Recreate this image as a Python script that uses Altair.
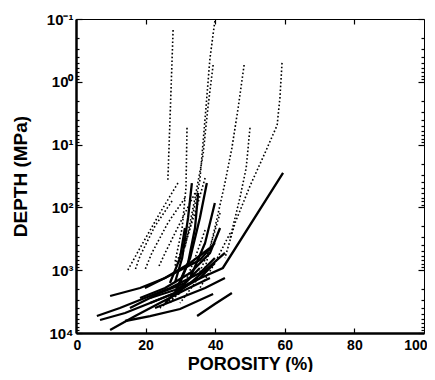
import altair as alt
import pandas as pd

# ---- data (porosity %, depth MPa) ----
dotted_porosity = [
    [27.9, 27.2, 26.4],
    [39.9, 38.5, 37.1, 35.6, 32.8, 29.9],
    [48.3, 46.6, 44.8, 42.8, 39.9, 37.1],
    [59.2, 58.6, 57.8, 54.3, 50.0, 45.7, 42.8],
    [50.0, 48.9, 47.1, 44.3],
    [31.9, 31.6, 30.5, 28.4],
    [39.4, 37.9, 36.5, 34.2, 31.3],
    [29.3, 24.1, 18.4, 14.9],
    [27.6, 22.7, 18.4, 17.0],
    [31.3, 26.4, 21.8, 19.8],
    [34.2, 29.9, 25.6, 23.6],
    [37.1, 34.2, 31.3, 28.4],
    [37.1, 34.2, 31.3, 27.0],
    [41.4, 38.5, 34.2, 29.9],
    [37.1, 34.2, 29.9, 24.1],
    [44.3, 39.9, 35.6],
]
dotted_depth = [
    [0.15, 2.0, 36.6],
    [0.108, 0.42, 3.8, 36.6, 213, 768],
    [0.54, 2.6, 11.3, 40.9, 213, 922],
    [0.50, 1.8, 4.9, 13.6, 45.6, 177, 640],
    [5.4, 23.6, 70.8, 307],
    [5.4, 49, 213, 768],
    [0.54, 2.6, 14.7, 70.8, 443],
    [40.9, 123, 443, 993],
    [79, 198, 594, 993],
    [70.8, 177, 532, 993],
    [59, 177, 532, 922],
    [34, 123, 369, 858],
    [229, 640, 1600, 3327],
    [123, 443, 1600, 3327],
    [369, 922, 2306, 3998],
    [256, 768, 1920],
]
solid_porosity = [
    [59.5, 42.2, 37.1, 28.4, 21.3],
    [14.1, 21.3, 29.9, 39.4],
    [34.8, 39.9, 44.8],
    [9.8, 18.4, 25.6, 32.8, 38.5],
    [6.0, 12.6, 19.8, 27.0, 35.6, 39.9],
    [6.9, 14.1, 21.3, 28.4],
    [9.8, 17.0, 24.1, 31.3, 38.5],
    [33.3, 32.2, 30.5, 28.4],
    [37.6, 35.6, 32.8, 28.4],
    [39.9, 37.1, 32.8, 25.6],
    [21.3, 28.4, 35.6, 39.9],
    [22.7, 29.9, 37.1, 42.8],
    [18.4, 25.6, 32.8, 38.5, 41.4],
    [15.5, 24.1, 31.3, 35.6],
    [19.8, 28.4, 35.6, 39.9],
    [27.0, 32.8, 38.5, 42.8],
    [35.1, 34.2, 32.2, 29.3],
    [31.3, 29.9, 27.0],
]
solid_depth = [
    [28.3, 922, 1237, 2067, 2772],
    [6440, 5363, 4148, 2393],
    [5363, 3451, 2306],
    [2576, 1920, 1331, 768, 443],
    [5363, 3998, 2772, 1920, 1110, 640],
    [6207, 4806, 3327, 2306],
    [8960, 5363, 3327, 2067, 1331],
    [40.9, 147, 640, 1600],
    [40.9, 147, 640, 2306],
    [85, 369, 1331, 3327],
    [3327, 2306, 1331, 768],
    [3998, 2772, 1920, 1331],
    [2772, 1920, 1110, 532, 213],
    [3998, 2306, 1600, 922],
    [1920, 1110, 689, 369],
    [2772, 1600, 858, 532],
    [59, 213, 768, 1920],
    [213, 640, 1600],
]
x_ticks = [0, 20, 40, 60, 80, 100]
y_major = [0.1, 1, 10, 100, 1000, 10000]
y_minor = [m * 10 ** k for k in range(-1, 4) for m in range(2, 10)]

rows = []
for kind, xs_all, ys_all in (("dotted", dotted_porosity, dotted_depth),
                             ("solid", solid_porosity, solid_depth)):
    for s, (xs, ys) in enumerate(zip(xs_all, ys_all)):
        for i, (xv, yv) in enumerate(zip(xs, ys)):
            rows.append({"kind": kind, "series": f"{kind}{s}", "idx": i,
                         "porosity": xv, "depth": yv})
df = pd.DataFrame(rows)

FONT = "Liberation Sans"
xscale = alt.Scale(domain=[0, 100], nice=False, zero=False)
yscale = alt.Scale(type="log", domain=[0.1, 10000], nice=False, reverse=True)

sup = ("datum.value < 0.5 ? '10⁻¹' : datum.value < 5 ? '10⁰' : "
       "datum.value < 50 ? '10¹' : datum.value < 500 ? '10²' : "
       "datum.value < 5000 ? '10³' : '10⁴'")

x_main = alt.Axis(orient="bottom", values=x_ticks, ticks=False, tickSize=0,
                  domainWidth=2.5, domainColor="black", grid=False,
                  labelFont=FONT, labelFontSize=14, labelFontWeight="bold",
                  labelColor="black", labelPadding=5, labelFlush=True,
                  labelFlushOffset=3,
                  title="POROSITY (%)", titleFont=FONT, titleFontSize=18,
                  titleFontWeight="bold", titleColor="black",
                  titleY=36, titleBaseline="alphabetic")
y_main = alt.Axis(orient="left", values=y_major, labelExpr=sup, ticks=False,
                  tickSize=0, domainWidth=2.5, domainColor="black", grid=False,
                  labelFont=FONT, labelFontSize=15, labelFontWeight="bold",
                  labelColor="black", labelPadding=3, labelFlush=False,
                  title="DEPTH (MPa)", titleFont=FONT, titleFontSize=19,
                  titleFontWeight="bold", titleColor="black",
                  titleX=-56, titleBaseline="middle", titleAlign="center")


def tick_axis(orient, values, size):
    return alt.Axis(orient=orient, values=values, labels=False, domain=False,
                    ticks=True, tickSize=size, tickWidth=1.2, tickColor="black",
                    offset=-size, grid=False, title=None)


base = alt.Chart(df)
dotted = base.transform_filter(alt.datum.kind == "dotted").mark_line(
    color="black", strokeWidth=1.6, strokeDash=[1.6, 2.2]
).encode(
    x=alt.X("porosity:Q", scale=xscale, axis=x_main),
    y=alt.Y("depth:Q", scale=yscale, axis=y_main),
    detail="series:N", order="idx:Q",
)
solid = base.transform_filter(alt.datum.kind == "solid").mark_line(
    color="black", strokeWidth=2.3
).encode(
    x=alt.X("porosity:Q", scale=xscale, axis=None),
    y=alt.Y("depth:Q", scale=yscale, axis=None),
    detail="series:N", order="idx:Q",
)


def ghost(xax, yax):
    xenc = alt.X("porosity:Q", scale=xscale, axis=xax)
    yenc = alt.Y("depth:Q", scale=yscale, axis=yax)
    return base.mark_point(opacity=0).encode(x=xenc, y=yenc)


g1 = ghost(tick_axis("bottom", [20, 40, 60, 80], 5), tick_axis("left", y_minor, 3))
g2 = ghost(tick_axis("top", [20, 40, 60, 80], 5), tick_axis("left", y_major, 6))
g3 = ghost(None, tick_axis("right", y_minor, 3))
g4 = ghost(None, tick_axis("right", y_major, 6))

chart = alt.layer(dotted, solid, g1, g2, g3, g4).resolve_axis(
    x="independent", y="independent"
).properties(
    width=348, height=314,
    autosize=alt.AutoSizeParams(type="none"),
    padding={"left": 68, "top": 11, "right": 3, "bottom": 39},
    background="white",
).configure_view(stroke="black", strokeWidth=1)

chart.save("out.html", embed_options={"renderer": "svg", "actions": False})
